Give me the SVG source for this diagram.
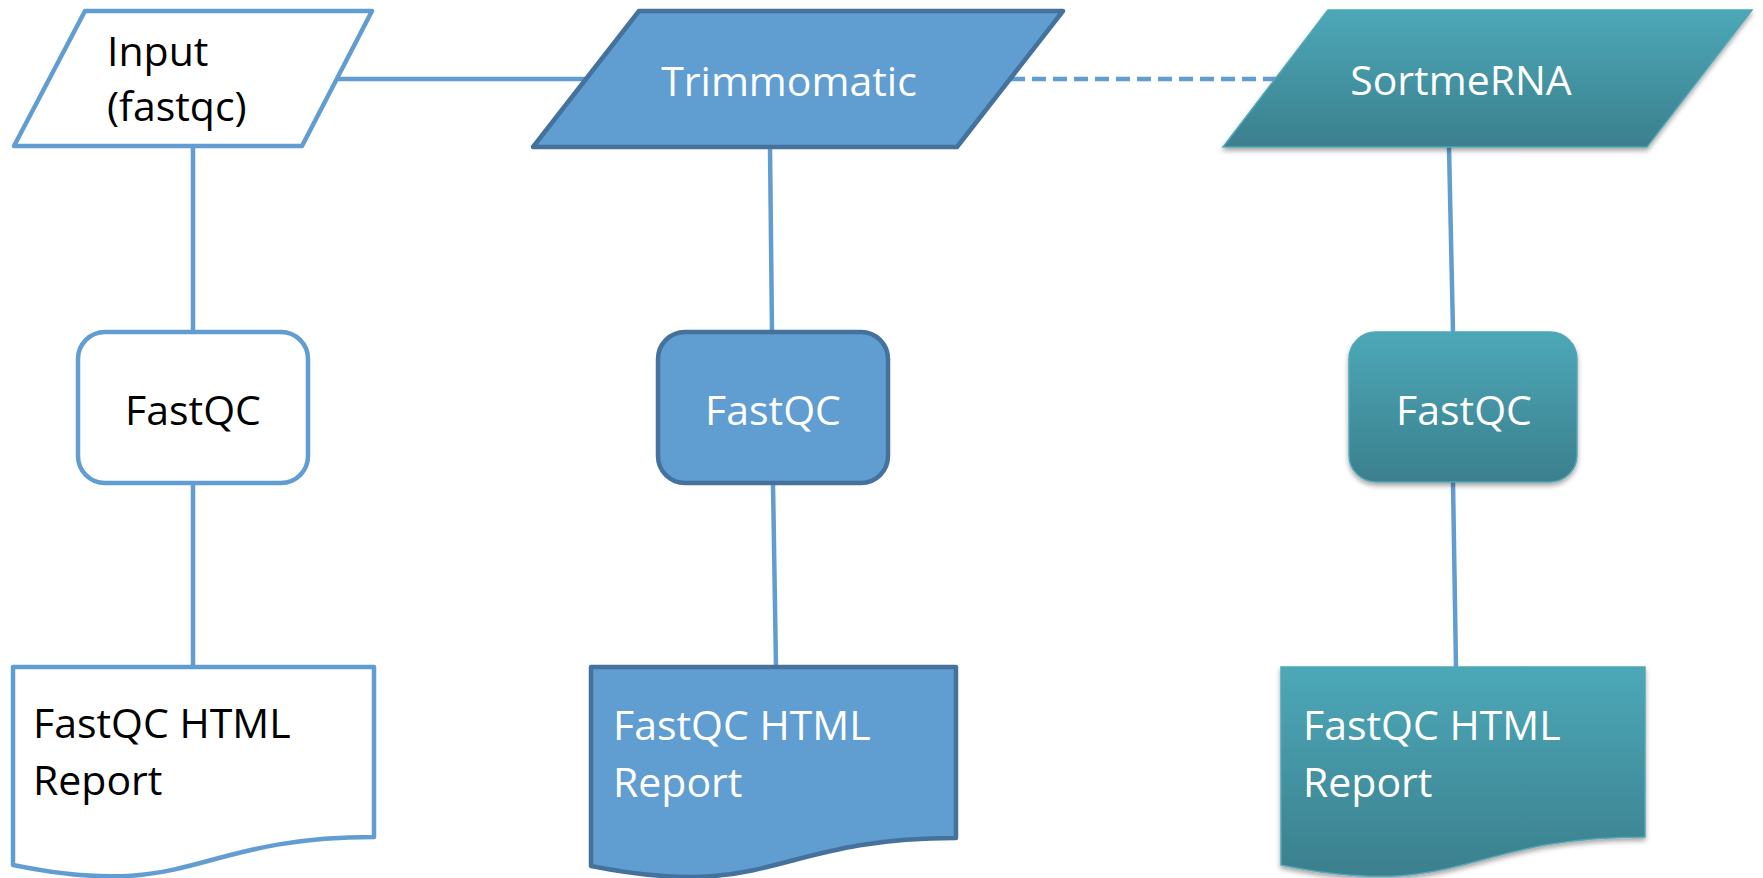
<svg xmlns="http://www.w3.org/2000/svg" width="1763" height="878" viewBox="0 0 1763 878">
<style>
.lbl{font-family:"Open Sans","Liberation Sans",sans-serif;font-size:41px}
.dark{fill:#000}
.light{fill:#fff}
.outline{fill:#fff;stroke:#629DD1;stroke-width:4.5;stroke-linejoin:round}
.blue{fill:#609DD0;stroke:#44729D;stroke-width:4.5;stroke-linejoin:round}
.teal{fill:url(#tealGrad);stroke:#52A6B5;stroke-width:1.5;filter:url(#shadow)}
.conn{stroke:#629DD1;stroke-width:4.5;fill:none}
.dash{stroke-dasharray:14 7}
</style>
<defs>
<linearGradient id="tealGrad" x1="0" y1="0" x2="0" y2="1">
<stop offset="0" stop-color="#4CA8B8"/>
<stop offset="1" stop-color="#3B7F8D"/>
</linearGradient>
<filter id="shadow" x="-10%" y="-10%" width="120%" height="130%">
<feDropShadow dx="0" dy="3" stdDeviation="2.5" flood-color="#000" flood-opacity="0.35"/>
</filter>
</defs>
<g id="connectors">
<line class="conn" x1="337" y1="79" x2="585" y2="79"/>
<line class="conn dash" x1="1011" y1="79" x2="1277" y2="79"/>
<line class="conn" x1="193" y1="146" x2="193" y2="332"/>
<line class="conn" x1="193" y1="483" x2="193" y2="667"/>
<line class="conn" x1="770" y1="147" x2="772" y2="332"/>
<line class="conn" x1="773" y1="483" x2="776" y2="667"/>
<line class="conn" x1="1449" y1="147" x2="1453" y2="332"/>
<line class="conn" x1="1453" y1="482" x2="1456" y2="667"/>
</g>
<g id="input">
<polygon class="outline" points="85,11 372,11 302,146 14,146"/>
<text class="lbl dark" x="107" y="66">Input</text>
<text class="lbl dark" x="107" y="121">(fastqc)</text>
</g>
<g id="trimmomatic">
<polygon class="blue" points="639,11 1063,11 957,147 533,147"/>
<text class="lbl light" x="789" y="96" text-anchor="middle">Trimmomatic</text>
</g>
<g id="sortmerna">
<polygon class="teal" points="1328,10 1752,10 1647,147 1223,147"/>
<text class="lbl light" x="1461" y="95" text-anchor="middle">SortmeRNA</text>
</g>
<g id="fastqc1">
<rect class="outline" x="78" y="332" width="230" height="151" rx="27"/>
<text class="lbl dark" x="193" y="425" text-anchor="middle">FastQC</text>
</g>
<g id="fastqc2">
<rect class="blue" x="658" y="332" width="230" height="151" rx="27"/>
<text class="lbl light" x="773" y="425" text-anchor="middle">FastQC</text>
</g>
<g id="fastqc3">
<rect class="teal" x="1349" y="332" width="228" height="150" rx="27"/>
<text class="lbl light" x="1464" y="425" text-anchor="middle">FastQC</text>
</g>
<g id="report1">
<path class="outline" d="M13,667 H374 V837 C193.5,837 193.5,902 13,865 Z"/>
<text class="lbl dark" x="33" y="738">FastQC HTML</text>
<text class="lbl dark" x="33" y="795">Report</text>
</g>
<g id="report2">
<path class="blue" d="M591,667 H956 V838 C773.5,838 773.5,902 591,866 Z"/>
<text class="lbl light" x="613" y="740">FastQC HTML</text>
<text class="lbl light" x="613" y="797">Report</text>
</g>
<g id="report3">
<path class="teal" d="M1281,667 H1645 V837 C1463,837 1463,902 1281,865 Z"/>
<text class="lbl light" x="1303" y="740">FastQC HTML</text>
<text class="lbl light" x="1303" y="797">Report</text>
</g>
</svg>
